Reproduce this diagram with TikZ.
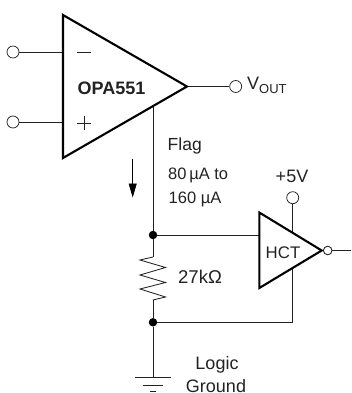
\documentclass[tikz,border=0pt]{standalone}
\usepackage{fontspec}
\setmainfont{Liberation Sans}
\usetikzlibrary{arrows.meta}
\definecolor{ink}{HTML}{222222}
\tikzset{
 wire/.style={draw=ink,line width=0.85pt},
 body/.style={draw=black,line width=2.1pt,line join=miter},
 term/.style={circle,draw=ink,line width=0.75pt,fill=white,minimum size=12pt,inner sep=0pt},
 bub/.style={circle,draw=ink,line width=0.75pt,fill=white,minimum size=8.5pt,inner sep=0pt},
 dot/.style={circle,fill=black,minimum size=8.5pt,inner sep=0pt},
 lab/.style={font=\fontsize{18pt}{20pt}\selectfont,text=ink,inner sep=0pt,anchor=base},
 mid/.style={font=\fontsize{16.5pt}{18pt}\selectfont,text=ink,inner sep=0pt,anchor=base west},
}
\begin{document}
\begin{tikzpicture}[x=1pt,y=-1pt]
\useasboundingbox[clip] (0,0) rectangle (351,393);
% terminals
\node[term] (in1) at (13,52) {};
\node[term] (in2) at (13,122) {};
\node[term] (out) at (235.7,86.5) {};
\node[term] (vcc) at (292.7,197.7) {};
\node[bub] (bub) at (327.7,250.5) {};
\node[dot] (j1) at (153,235) {};
\node[dot] (j2) at (153,322.3) {};
\coordinate (opin1) at (63,52);
\coordinate (opin2) at (63,122);
\coordinate (opout) at (187,86.5);
\coordinate (flag) at (153,107);
\coordinate (hin) at (259,235);
\coordinate (hvcc) at (292.7,232);
\coordinate (hgnd) at (292.7,268);
\coordinate (corner) at (292.7,322.3);
\coordinate (qout) at (351,250.5);
\coordinate (gnd) at (153,377.7);
\coordinate (r1) at (153,257);
\coordinate (r2) at (153,300);
% wires
\draw[wire] (in1) -- (opin1);
\draw[wire] (in2) -- (opin2);
\draw[wire] (opout) -- (out);
\draw[wire] (flag) -- (j1) -- (r1);
\draw[wire] (r2) -- (j2) -- (gnd);
\draw[wire] (j1) -- (hin);
\draw[wire] (vcc) -- (hvcc);
\draw[wire] (hgnd) -- (corner) -- (j2);
\draw[wire] (bub) -- (qout);
\draw[wire,line join=miter] (r1) -- (140,260) -- (165.5,267.5) -- (140,275) -- (165.5,282.5) -- (140,289) -- (165.5,297) -- (r2);
% ground
\draw[wire] (135,377.7) -- (171,377.7);
\draw[wire] (142.5,385) -- (163,385);
\draw[wire] (150,391.8) -- (155.5,391.8);
% bodies
\draw[body] (63,15) -- (187,86.5) -- (63,158) -- cycle;
\draw[body] (259.3,212.5) -- (321.7,250.5) -- (259.3,288) -- cycle;
\node[bub] at (bub) {};
% op-amp signs
\draw[wire] (77,52) -- (91,52);
\draw[wire] (77,123) -- (91,123) (84,116) -- (84,130);
% current arrow
\coordinate (a1) at (132.7,159);
\coordinate (a2) at (132.7,197.5);
\draw[draw=black,line width=0.7pt,-{Triangle[length=14pt,width=8pt]}] (a1) -- (a2);
% text
\node[lab,font=\fontsize{18pt}{20pt}\selectfont\bfseries] (t1) at (111.5,95) {OPA551};
\node[lab,anchor=base west] (t2) at (247,90) {V\raisebox{-3.3pt}{\fontsize{13pt}{14pt}\selectfont OUT}};
\node[lab,anchor=base west,font=\fontsize{17.5pt}{19pt}\selectfont] (t3) at (167.5,150.7) {Flag};
\node[mid] (t4) at (168,179) {80\,µA to};
\node[mid] (t5) at (168.5,203) {160 µA};
\node[lab] (t6) at (292,182.7) {+5V};
\node[lab,font=\fontsize{16.8pt}{18pt}\selectfont] (t7) at (283,258) {HCT};
\node[lab,anchor=base west,font=\fontsize{18.5pt}{20pt}\selectfont] (t8) at (178,283) {27kΩ};
\node[lab] (t9) at (217,369) {Logic};
\node[lab] (t10) at (216,392) {Ground};
\end{tikzpicture}
\end{document}
